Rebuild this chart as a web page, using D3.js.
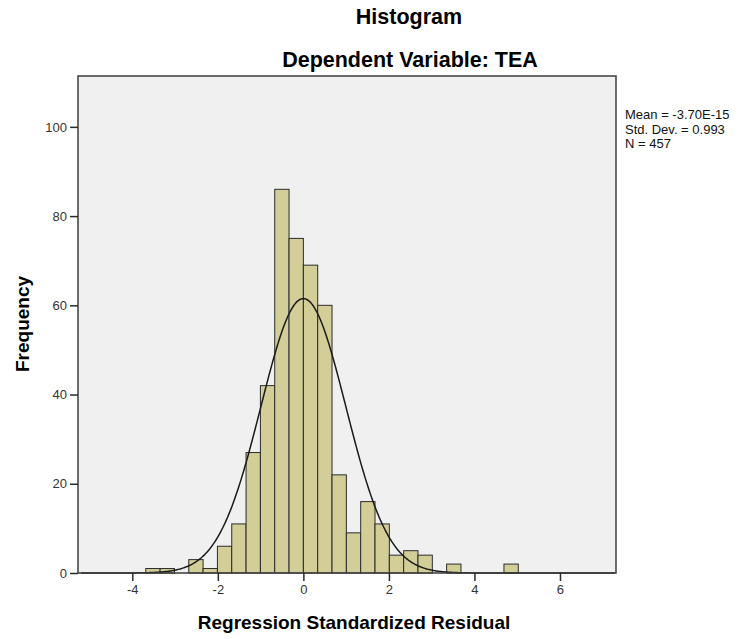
<!DOCTYPE html>
<html>
<head>
<meta charset="utf-8">
<script src="https://cdn.jsdelivr.net/npm/d3@7"></script>
<style>
  body { margin: 0; background: #fff; }
  text { font-family: "Liberation Sans", Arial, sans-serif; }
</style>
</head>
<body>
<div id="chart"></div>
<script>
// histogram counts, bin i covers [binStart + i*binWidth, binStart + (i+1)*binWidth]
const binStart = -3.685;
const binWidth = 0.335;
const counts = [1, 1, 0, 3, 1, 6, 11, 27, 42, 86, 75, 69, 60, 22, 9, 16, 11, 4, 5, 4, 0, 2, 0, 0, 0, 2];

const xTicks = [-4, -2, 0, 2, 4, 6];
const yTicks = [0, 20, 40, 60, 80, 100];

const mean = -3.70e-15;
const stdDev = 0.993;
const n = 457;
const statLines = ["Mean = -3.70E-15", "Std. Dev. = 0.993", "N = 457"];

let width = 742;
let height = 639;
let plot = { left: 78, right: 616, top: 76, bottom: 573 };

let svg = d3.select("#chart").append("svg")
  .attr("width", width)
  .attr("height", height);

let x = d3.scaleLinear()
  .domain([-5.27, 7.31])
  .range([plot.left, plot.right]);

let y = d3.scaleLinear()
  .domain([0, 111.4])
  .range([plot.bottom, plot.top]);

// plot background
svg.append("rect")
  .attr("x", plot.left)
  .attr("y", plot.top)
  .attr("width", plot.right - plot.left)
  .attr("height", plot.bottom - plot.top)
  .attr("fill", "#f0f0f0");

let bins = counts.map((c, i) => ({
  x0: binStart + i * binWidth,
  x1: binStart + (i + 1) * binWidth,
  count: c
})).filter(d => d.count > 0);

svg.append("g")
  .selectAll("rect")
  .data(bins)
  .enter()
  .append("rect")
  .attr("x", d => x(d.x0))
  .attr("y", d => y(d.count))
  .attr("width", d => x(d.x1) - x(d.x0))
  .attr("height", d => y(0) - y(d.count))
  .attr("fill", "#d3ce97")
  .attr("stroke", "#2b2b2b")
  .attr("stroke-width", 1);

// fitted normal curve
let curveXs = d3.range(-5.2, 7.3, 0.02);
let pdf = v => n * binWidth / (stdDev * Math.sqrt(2 * Math.PI)) *
  Math.exp(-0.5 * Math.pow((v - mean) / stdDev, 2));

svg.append("path")
  .datum(curveXs)
  .attr("fill", "none")
  .attr("stroke", "#1a1a1a")
  .attr("stroke-width", 1.5)
  .attr("d", d3.line().x(d => x(d)).y(d => y(pdf(d))));

// frame
svg.append("rect")
  .attr("x", plot.left)
  .attr("y", plot.top)
  .attr("width", plot.right - plot.left)
  .attr("height", plot.bottom - plot.top)
  .attr("fill", "none")
  .attr("stroke", "#3c3c3c")
  .attr("stroke-width", 1.5);

let xAxis = d3.axisBottom(x).tickValues(xTicks).tickSize(8).tickPadding(4)
  .tickFormat(d => String(d));
let yAxis = d3.axisLeft(y).tickValues(yTicks).tickSize(8).tickPadding(3)
  .tickFormat(d => String(d));

let gx = svg.append("g")
  .attr("transform", `translate(0, ${plot.bottom})`)
  .call(xAxis);
let gy = svg.append("g")
  .attr("transform", `translate(${plot.left}, 0)`)
  .call(yAxis);

[gx, gy].forEach(g => {
  g.select(".domain").remove();
  g.selectAll("line").attr("stroke", "#2b2b2b").attr("stroke-width", 1.5);
  g.selectAll("text")
    .attr("fill", "#333")
    .style("font-size", "13px")
    .style("font-family", "'Liberation Sans', Arial, sans-serif");
});

// titles
svg.append("text")
  .attr("x", 409).attr("y", 24)
  .attr("text-anchor", "middle")
  .style("font-size", "21.5px").style("font-weight", "bold")
  .text("Histogram");

svg.append("text")
  .attr("x", 410).attr("y", 67)
  .attr("text-anchor", "middle")
  .style("font-size", "21.5px").style("font-weight", "bold")
  .text("Dependent Variable: TEA");

svg.append("text")
  .attr("x", 354).attr("y", 629)
  .attr("text-anchor", "middle")
  .style("font-size", "19px").style("font-weight", "bold")
  .text("Regression Standardized Residual");

svg.append("text")
  .attr("transform", `translate(29, 324) rotate(-90)`)
  .attr("text-anchor", "middle")
  .style("font-size", "19px").style("font-weight", "bold")
  .text("Frequency");

// stats box
svg.append("g")
  .selectAll("text")
  .data(statLines)
  .enter()
  .append("text")
  .attr("x", 625)
  .attr("y", (d, i) => 119 + i * 14.5)
  .attr("fill", "#111")
  .style("font-size", "13px")
  .text(d => d);
</script>
</body>
</html>
